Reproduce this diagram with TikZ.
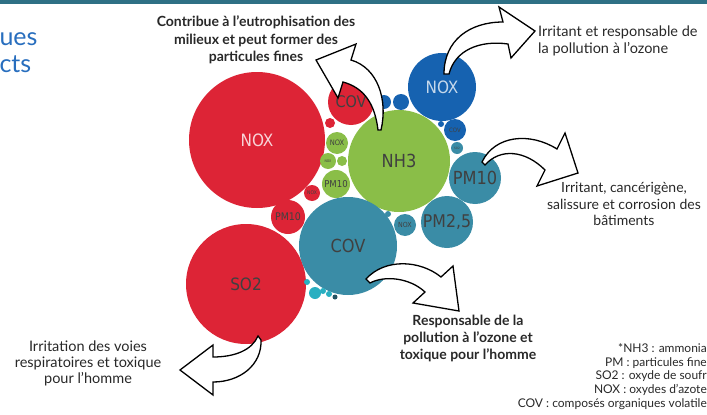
\documentclass[tikz,border=0pt]{standalone}
\usepackage{fontspec}
\setmainfont{Lato}
\newfontfamily\narrowfont{DejaVu Sans Condensed}
\usetikzlibrary{positioning,calc}

\definecolor{bubred}{RGB}{221,36,54}
\definecolor{bubgreen}{RGB}{138,190,72}
\definecolor{bubblue}{RGB}{22,98,176}
\definecolor{bubteal}{RGB}{58,140,166}
\definecolor{titleblue}{RGB}{40,110,190}
\definecolor{notegray}{RGB}{40,40,40}

\tikzset{
  bubble/.style={circle,inner sep=0pt,minimum size=2*#1,font=\narrowfont,text=black!75},
  redb/.style={bubble=#1,fill=bubred},
  greenb/.style={bubble=#1,fill=bubgreen},
  blueb/.style={bubble=#1,fill=bubblue},
  tealb/.style={bubble=#1,fill=bubteal},
  hollow/.style={draw=black,line width=1.3pt,fill=white,line join=miter},
  note/.style={align=center,text=notegray}
}

\begin{document}
\begin{tikzpicture}[x=1pt,y=-1pt]
\useasboundingbox (0,0) rectangle (707,415);
\fill[bubteal!80!black] (0,0) rectangle (707,4);
\node[anchor=base west,text=titleblue,font=\fontsize{25}{26}\selectfont] (ttl1) at (-4,45) {ues};
\node[anchor=base west,text=titleblue,font=\fontsize{25}{26}\selectfont] (ttl2) at (-4,72) {cts};

% red
\node[redb=68,text=white!80!bubred,font=\narrowfont\fontsize{17}{17}\selectfont] (noxR) at (257,140) {NOX};
\node[redb=60,font=\narrowfont\fontsize{17}{17}\selectfont] (so2) at (246,284) {SO2};
\node[redb=23,font=\narrowfont\fontsize{16}{16}\selectfont] (covR) at (351,102) {COV};
\node[redb=5] (r1) at (330,123) {};
\node[redb=8,font=\narrowfont\fontsize{5}{5}\selectfont] (noxRs) at (312,193) {NOX};
\node[redb=17,font=\narrowfont\fontsize{10.5}{11}\selectfont] (pm10R) at (288,217) {PM10};

% green
\node[greenb=51,font=\narrowfont\fontsize{18}{18}\selectfont] (nh3) at (399,161) {NH3};
\node[greenb=11,font=\narrowfont\fontsize{7.5}{8}\selectfont] (noxG) at (337,143) {NOX};
\node[greenb=8,font=\narrowfont\fontsize{3.5}{4}\selectfont] (g1) at (328,161) {NOX};
\node[greenb=5] (g2) at (342,161) {};
\node[greenb=14,font=\narrowfont\fontsize{9.5}{10}\selectfont] (pm10G) at (336,184) {PM10};

% blue
\node[blueb=34,text=white!75!bubblue,font=\narrowfont\fontsize{17}{17}\selectfont] (noxB) at (442,87) {NOX};
\node[blueb=7] (b1) at (384,102) {};
\node[blueb=8] (b2) at (401,102) {};
\node[blueb=11,font=\narrowfont\fontsize{6}{6}\selectfont] (covB) at (455,130) {COV};
\node[blueb=3] (b3) at (441,124) {};

% teal
\node[tealb=49,font=\narrowfont\fontsize{18}{18}\selectfont] (covT) at (348,246) {COV};
\node[tealb=26,font=\narrowfont\fontsize{18}{18}\selectfont] (pm10T) at (475,178) {PM10};
\node[tealb=26,font=\narrowfont\fontsize{17.5}{18}\selectfont] (pm25) at (447,222) {PM2,5};
\node[tealb=11,font=\narrowfont\fontsize{7}{7}\selectfont] (noxT) at (405,225) {NOX};
\node[tealb=3] (t1) at (388,214) {};
\node[tealb=6,font=\narrowfont\fontsize{3}{3}\selectfont] (t2) at (457,148) {SO2};
\node[tealb=6,fill=bubteal!70!cyan] (t3) at (315,293) {};
\node[tealb=3,fill=bubteal!70!cyan] (t4) at (307,282) {};
\node[tealb=3,fill=bubteal!70!cyan] (t5) at (323,291) {};
\node[tealb=3,fill=bubteal!70!cyan] (t6) at (329,294) {};
\node[tealb=2.5,fill=bubteal!60!black] (t7) at (335,297) {};

% arrows
\draw[hollow] (378,130) .. controls (375,105) and (365,88) .. (343,82) -- (338,98) -- (316,60) -- (356,44) -- (351,60)
  .. controls (378,68) and (388,100) .. (381,130) -- cycle;
\draw[hollow] (444,74) .. controls (444,40) and (470,22) .. (503,22) -- (499,7) -- (535,31) -- (511,58) -- (508,44)
  .. controls (480,40) and (455,50) .. (449,74) -- cycle;
\draw[hollow] (482,162) .. controls (495,135) and (530,132) .. (557,149) -- (565,133) -- (578,173) -- (537,186) -- (545,170)
  .. controls (525,150) and (500,148) .. (485,165) -- cycle;
\draw[hollow] (366,279) .. controls (385,258) and (420,260) .. (441,277) -- (453,266) -- (459,311) -- (413,303) -- (425,292)
  .. controls (410,278) and (385,275) .. (370,283) -- cycle;
\draw[hollow] (258,336) .. controls (252,350) and (235,357) .. (213,357) -- (213,345) -- (180,370) -- (213,395) -- (213,382)
  .. controls (240,382) and (262,365) .. (261,340) -- cycle;

% notes
\node[note,font=\bfseries\fontsize{14}{17.5}\selectfont] (eutro) at (256,40) {Contribue à l'eutrophisation des\\milieux et peut former des\\particules fines};
\node[note,align=left,anchor=west,inner sep=1pt,font=\fontsize{14.5}{17}\selectfont] (ozone) at (537,41) {Irritant et responsable de\\la pollution à l'ozone};
\node[note,font=\fontsize{14}{16.5}\selectfont] (cancer) at (624,204) {Irritant, cancérigène,\\salissure et corrosion des\\bâtiments};
\node[note,font=\bfseries\fontsize{14}{17}\selectfont] (toxic) at (468,338) {Responsable de la\\pollution à l'ozone et\\toxique pour l'homme};
\node[note,font=\fontsize{14.5}{16}\selectfont] (resp) at (88,363) {Irritation des voies\\respiratoires et toxique\\pour l'homme};
\node[note,align=right,anchor=north east,inner sep=0pt,font=\fontsize{12}{13.8}\selectfont] (legend) at (707,343)
  {*NH3 : ammonia\\PM : particules fine\\SO2 : oxyde de soufr\\NOX : oxydes d'azote\\COV : composés organiques volatile};
\end{tikzpicture}
\end{document}
